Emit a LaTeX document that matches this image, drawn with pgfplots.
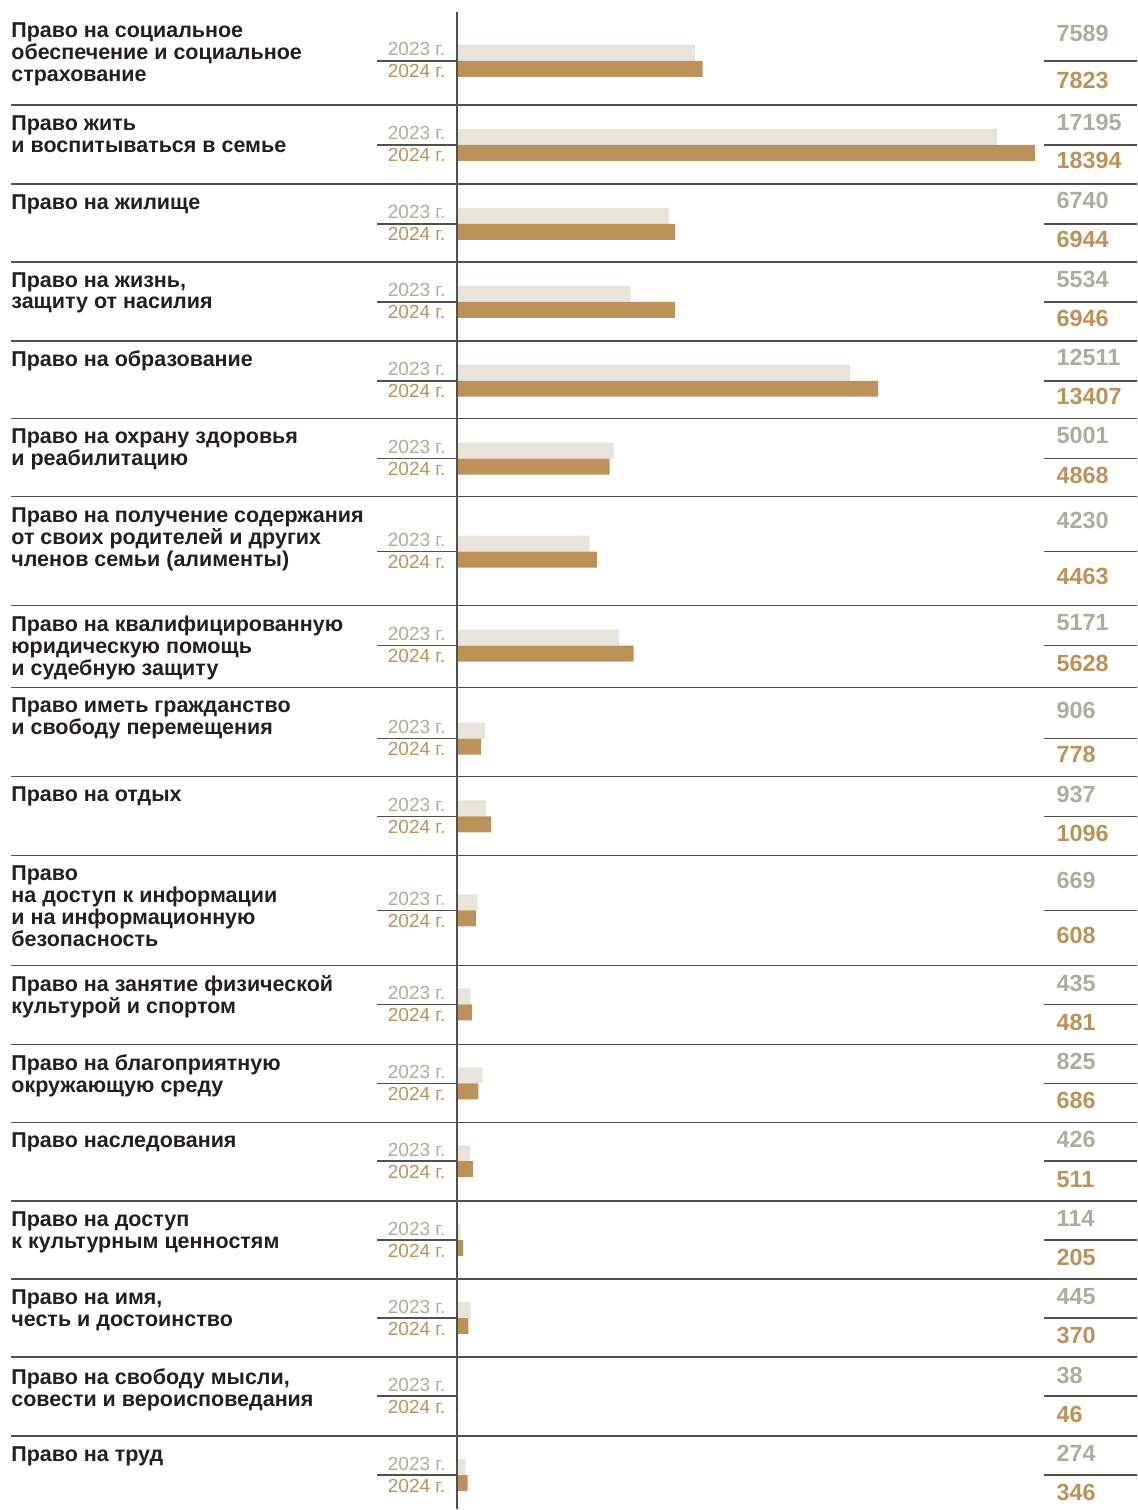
\documentclass[border=0pt]{standalone}
\usepackage{pgfplots}
\pgfplotsset{compat=1.18}
\usepackage{pgfplotstable}
\usepackage{fontspec}
\setmainfont{Liberation Sans}
\definecolor{c23}{RGB}{231,228,220}
\definecolor{t23}{RGB}{172,172,160}
\definecolor{c24}{RGB}{188,145,90}
\definecolor{ln}{RGB}{80,80,80}
\definecolor{tx}{RGB}{35,31,32}

\pgfplotstableread{
y23 v23 y24 v24
53 7589 69 7823
137 17195 153 18394
216 6740 232 6944
294 5534 310 6946
373 12511 389 13407
451 5001 467 4868
544 4230 560 4463
638 5171 654 5628
731 906 747 778
809 937 825 1096
903 669 919 608
997 435 1013 481
1076 825 1092 686
1154 426 1170 511
1233 114 1249 205
1311 445 1327 370
1389 38 1405 46
1468 274 1484 346
}\data

\tikzset{
  cat/.style={anchor=north west, inner sep=0pt, align=left, text=tx, font=\fontsize{10.75}{11}\selectfont\bfseries},
  yr/.style={inner sep=0pt, font=\fontsize{9.5}{10}\selectfont},
  val/.style={anchor=west, inner sep=0pt, font=\fontsize{11.7}{12}\selectfont\bfseries},
}
\newcommand\grp[7]{%
  \node[cat] at (axis cs:11,#1) {#7};
  \node[yr, text=t23, anchor=base east, yshift=2.5pt] at (axis cs:446,#2) {2023 г.};
  \node[yr, text=c24, anchor=base east, yshift=-8.5pt] at (axis cs:446,#2) {2024 г.};
  \draw[ln, line width=0.75pt] (axis cs:377,#2) -- (axis cs:457,#2);
  \draw[ln, line width=0.75pt] (axis cs:1045,#2) -- (axis cs:1138,#2);
  \node[val, text=t23] at (axis cs:1057,#3) {#5};
  \node[val, text=c24] at (axis cs:1057,#4) {#6};
}

\begin{document}
\begin{tikzpicture}
\begin{axis}[at={(0,0)}, anchor=south west, scale only axis, width=569pt, height=755pt,
  hide axis, xmin=-14532.6, xmax=21655.8, ymin=0, ymax=1510, y dir=reverse,
  xbar, bar width=8pt, bar shift=0pt]
\addplot[fill=c23, draw=none] table[x=v23,y=y23]{\data};
\addplot[fill=c24, draw=none] table[x=v24,y=y24]{\data};
\end{axis}
\begin{axis}[at={(0,0)}, anchor=south west, scale only axis, width=569pt, height=755pt,
  hide axis, xmin=0, xmax=1138, ymin=0, ymax=1510, y dir=reverse, clip=false]
\path (axis cs:0,0) rectangle (axis cs:1138,1510);
\draw[ln, line width=1pt] (axis cs:457,12) -- (axis cs:457,1510);
\draw[ln, line width=0.75pt] (axis cs:11,105) -- (axis cs:1138,105);
\draw[ln, line width=0.75pt] (axis cs:11,184) -- (axis cs:1138,184);
\draw[ln, line width=0.75pt] (axis cs:11,262) -- (axis cs:1138,262);
\draw[ln, line width=0.75pt] (axis cs:11,341) -- (axis cs:1138,341);
\draw[ln, line width=0.75pt] (axis cs:11,419) -- (axis cs:1138,419);
\draw[ln, line width=0.75pt] (axis cs:11,497) -- (axis cs:1138,497);
\draw[ln, line width=0.75pt] (axis cs:11,606) -- (axis cs:1138,606);
\draw[ln, line width=0.75pt] (axis cs:11,688) -- (axis cs:1138,688);
\draw[ln, line width=0.75pt] (axis cs:11,777) -- (axis cs:1138,777);
\draw[ln, line width=0.75pt] (axis cs:11,856) -- (axis cs:1138,856);
\draw[ln, line width=0.75pt] (axis cs:11,966) -- (axis cs:1138,966);
\draw[ln, line width=0.75pt] (axis cs:11,1045) -- (axis cs:1138,1045);
\draw[ln, line width=0.75pt] (axis cs:11,1123) -- (axis cs:1138,1123);
\draw[ln, line width=0.75pt] (axis cs:11,1202) -- (axis cs:1138,1202);
\draw[ln, line width=0.75pt] (axis cs:11,1280) -- (axis cs:1138,1280);
\draw[ln, line width=0.75pt] (axis cs:11,1358) -- (axis cs:1138,1358);
\draw[ln, line width=0.75pt] (axis cs:11,1437) -- (axis cs:1138,1437);
\grp{22}{61}{33}{81}{7589}{7823}{Право на социальное\\обеспечение и социальное\\страхование}
\grp{115}{145}{123}{161}{17195}{18394}{Право жить\\и воспитываться в семье}
\grp{194}{224}{201}{240}{6740}{6944}{Право на жилище}
\grp{272}{302}{280}{319}{5534}{6946}{Право на жизнь,\\защиту от насилия}
\grp{351}{381}{358}{397}{12511}{13407}{Право на образование}
\grp{429}{459}{436}{476}{5001}{4868}{Право на охрану здоровья\\и реабилитацию}
\grp{508}{552}{521}{577}{4230}{4463}{Право на получение содержания\\от своих родителей и других\\членов семьи (алименты)}
\grp{616}{646}{623}{664}{5171}{5628}{Право на квалифицированную\\юридическую помощь\\и судебную защиту}
\grp{698}{739}{711}{755}{906}{778}{Право иметь гражданство\\и свободу перемещения}
\grp{787}{817}{795}{834}{937}{1096}{Право на отдых}
\grp{866}{911}{881}{936}{669}{608}{Право\\на доступ к информации\\и на информационную\\безопасность}
\grp{976}{1005}{984}{1023}{435}{481}{Право на занятие физической\\культурой и спортом}
\grp{1055}{1084}{1062}{1101}{825}{686}{Право на благоприятную\\окружающую среду}
\grp{1133}{1162}{1140}{1180}{426}{511}{Право наследования}
\grp{1212}{1241}{1219}{1258}{114}{205}{Право на доступ\\к культурным ценностям}
\grp{1290}{1319}{1297}{1336}{445}{370}{Право на имя,\\честь и достоинство}
\grp{1369}{1397}{1376}{1415}{38}{46}{Право на свободу мысли,\\совести и вероисповедания}
\grp{1447}{1476}{1454}{1493}{274}{346}{Право на труд}
\end{axis}
\end{tikzpicture}
\end{document}
